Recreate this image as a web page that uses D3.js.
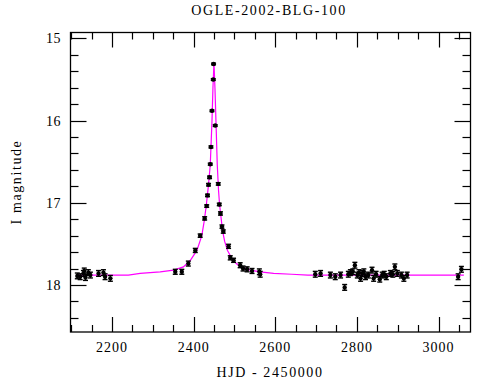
<!DOCTYPE html>
<html><head><meta charset="utf-8">
<script src="https://cdn.jsdelivr.net/npm/d3@7"></script>
<style>
html,body{margin:0;padding:0;background:#fff;}
svg text{font-family:"Liberation Serif","Times New Roman",serif;fill:#000;}
</style></head>
<body><svg id="c" width="490" height="380"></svg>
<script>
const title = "OGLE-2002-BLG-100";
const xLabel = "HJD - 2450000";
const yLabel = "I magnitude";
const xTicksMajor = [2200, 2400, 2600, 2800, 3000];
const yTicksMajor = [15, 16, 17, 18];

const obsT = [2115,2122,2130,2132,2135,2142,2147,2167,2179,2183,2196,
  2355,2371,2387,2404,2416,2427,2432,2434,2436.5,2439,2440.7,2442.4,2444.9,2448.1,2448.8,
  2452.9,2460.3,2462.8,2465.7,2469.4,2472.6,2485.6,2489.7,2497.8,2514,2521,2531,2543,2561,2563,
  2698,2711,2735,2747,2760,2770,2779,2784,2790,2795,2801,2805,2809,2813,2817,2821,2828,2837,2841,2847,2856,2862,2867,2872,2882,2888,2893,2899,2909,2915,2923,3048,3056];
const obsMag = [17.89,17.90,17.86,17.83,17.91,17.85,17.88,17.86,17.85,17.90,17.92,
  17.84,17.84,17.74,17.58,17.40,17.19,17.04,16.91,16.78,16.69,16.53,16.32,15.88,15.50,15.31,
  16.06,16.77,17.02,17.13,17.29,17.35,17.53,17.67,17.70,17.76,17.80,17.81,17.83,17.84,17.87,
  17.87,17.86,17.88,17.90,17.88,18.03,17.87,17.85,17.84,17.76,17.88,17.85,17.92,17.86,17.84,17.90,17.88,17.82,17.92,17.87,17.93,17.88,17.87,17.90,17.86,17.87,17.78,17.86,17.88,17.92,17.88,17.90,17.81];
const obsErr = [0.035,0.035,0.035,0.035,0.035,0.035,0.035,0.035,0.035,0.035,0.035,
  0.03,0.03,0.03,0.025,0.02,0.02,0.015,0.015,0.015,0.015,0.012,0.012,0.01,0.01,0.01,
  0.01,0.015,0.015,0.02,0.02,0.02,0.025,0.025,0.025,0.03,0.03,0.03,0.03,0.035,0.035,
  0.035,0.035,0.035,0.035,0.035,0.035,0.035,0.035,0.035,0.035,0.035,0.035,0.035,0.035,0.035,0.035,0.035,0.035,0.035,0.035,0.035,0.035,0.035,0.035,0.035,0.035,0.035,0.035,0.035,0.035,0.035,0.035,0.035];

const modelT = [2114,2240,2269,2318,2351,2375,2392,2408,2420,2426,2431,2436,2440.7,2443,2444.9,2447.3,2449.8,
  2452.2,2454.7,2457.9,2461,2463.5,2470.8,2476,2483,2496,2514,2539,2563,2596,2640,2680,3062];
const modelMag = [17.88,17.88,17.86,17.84,17.82,17.78,17.70,17.58,17.40,17.22,17.03,16.80,16.54,16.25,16.01,15.60,15.30,
  15.60,16.01,16.54,16.85,17.02,17.34,17.47,17.58,17.70,17.78,17.82,17.84,17.86,17.87,17.88,17.88];

const L = 70.5, R = 470.5, T = 32.5, B = 332;
const svg = d3.select("#c");
const x = d3.scaleLinear().domain([2098.3, 3078.3]).range([L, R]);
const y = d3.scaleLinear().domain([14.927, 18.573]).range([T, B]);

svg.append("rect").attr("x", L).attr("y", T).attr("width", R - L).attr("height", B - T)
  .attr("fill", "none").attr("stroke", "#000").attr("stroke-width", 1.3);

const xMinor = d3.range(2100, 3076, 50).filter(v => !xTicksMajor.includes(v));
const yMinor = d3.range(15.0, 18.6, 0.2).map(v => +v.toFixed(1)).filter(v => !yTicksMajor.includes(v) && v > 14.93 && v < 18.57);

function ticks(g, vals, len) {
  vals.forEach(v => {
    const px = Math.round(x(v)) + 0.5;
    g.append("line").attr("x1", px).attr("x2", px).attr("y1", B).attr("y2", B - len);
    g.append("line").attr("x1", px).attr("x2", px).attr("y1", T).attr("y2", T + len);
  });
}
function yticks(g, vals, len) {
  vals.forEach(v => {
    const py = Math.round(y(v)) + 0.5;
    g.append("line").attr("y1", py).attr("y2", py).attr("x1", L).attr("x2", L + len);
    g.append("line").attr("y1", py).attr("y2", py).attr("x1", R).attr("x2", R - len);
  });
}
const tg = svg.append("g").attr("stroke", "#000").attr("stroke-width", 1.2);
ticks(tg, xTicksMajor, 15);
ticks(tg, xMinor, 7);
yticks(tg, yTicksMajor, 16);
yticks(tg, yMinor, 8);

svg.append("g").selectAll("text").data(xTicksMajor).join("text")
  .attr("x", d => x(d)).attr("y", 352).attr("text-anchor", "middle")
  .attr("font-size", 14).attr("letter-spacing", 1).text(d => d);
svg.append("g").selectAll("text").data(yTicksMajor).join("text")
  .attr("x", 61).attr("y", d => y(d) + 5).attr("text-anchor", "end")
  .attr("font-size", 14).attr("letter-spacing", 0.5).text(d => d);

svg.append("text").attr("x", 269).attr("y", 15).attr("text-anchor", "middle")
  .attr("font-size", 14).attr("letter-spacing", 1.6).text(title);
svg.append("text").attr("x", 270).attr("y", 377).attr("text-anchor", "middle")
  .attr("font-size", 14).attr("letter-spacing", 1.6).text(xLabel);
svg.append("text").attr("transform", "translate(21,182) rotate(-90)").attr("text-anchor", "middle")
  .attr("font-size", 14).attr("letter-spacing", 1.6).text(yLabel);

const pts = modelT.map((t, i) => [t, modelMag[i]]);
svg.append("path").datum(pts)
  .attr("d", d3.line().x(d => x(d[0])).y(d => y(d[1])))
  .attr("fill", "none").attr("stroke", "#ff00ff").attr("stroke-width", 1.2);

const obs = obsT.map((t, i) => ({t, m: obsMag[i], e: obsErr[i]}));
const og = svg.append("g");
obs.forEach(d => {
  const cx = x(d.t), y1 = y(d.m - d.e), y2 = y(d.m + d.e);
  og.append("line").attr("x1", cx).attr("x2", cx).attr("y1", y1).attr("y2", y2)
    .attr("stroke", "#000").attr("stroke-width", 1.4);
  og.append("line").attr("x1", cx - 2.5).attr("x2", cx + 2.5).attr("y1", y1).attr("y2", y1)
    .attr("stroke", "#000").attr("stroke-width", 1.4);
  og.append("line").attr("x1", cx - 2.5).attr("x2", cx + 2.5).attr("y1", y2).attr("y2", y2)
    .attr("stroke", "#000").attr("stroke-width", 1.4);
  og.append("circle").attr("cx", cx).attr("cy", y(d.m)).attr("r", 2.2).attr("fill", "#000");
});
</script>
</body></html>
